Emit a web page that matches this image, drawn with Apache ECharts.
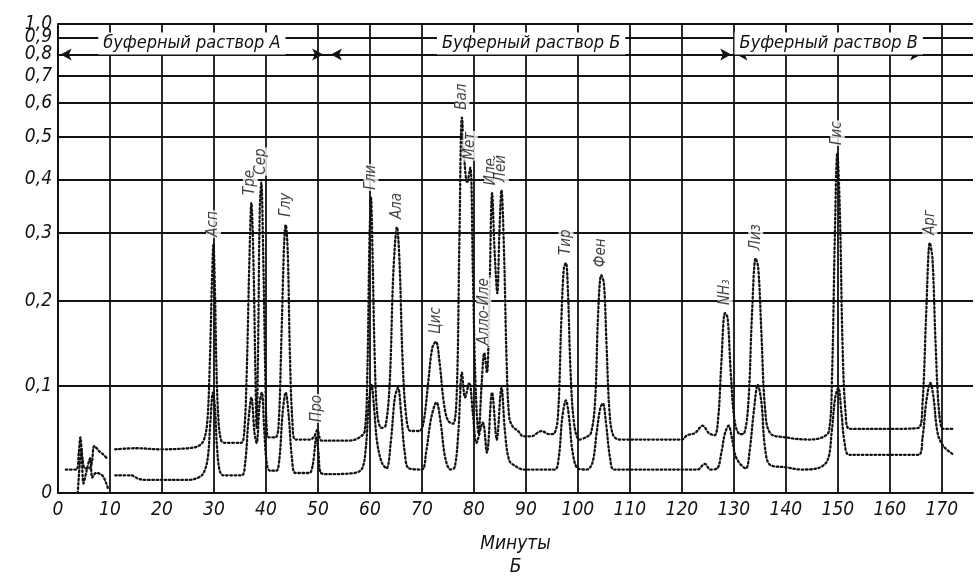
<!DOCTYPE html>
<html><head><meta charset="utf-8">
<script src="https://cdn.jsdelivr.net/npm/echarts@6/dist/echarts.min.js"></script>
<style>html,body{margin:0;padding:0;background:#fff}#c{width:980px;height:581px}</style>
</head><body><div id="c"></div>
<script>
// Y axis: optical density (extinction) ticks; the paper scale is linear in transmission
const yTicks = [0, 0.1, 0.2, 0.3, 0.4, 0.5, 0.6, 0.7, 0.8, 0.9, 1.0];
const yTickLabels = ['0', '0,1', '0,2', '0,3', '0,4', '0,5', '0,6', '0,7', '0,8', '0,9', '1,0'];
const xTicks = [0, 10, 20, 30, 40, 50, 60, 70, 80, 90, 100, 110, 120, 130, 140, 150, 160, 170];
const xTickLabels = xTicks.map(String);

// upper recorder trace [minutes, extinction]
const upperStart = [[1.5,0.020],[3.5,0.020],[4.0,0.035],[4.3,0.049],[4.7,0.030],[5.2,0.021],[6.0,0.021],[6.5,0.026],[7.0,0.041],[8.0,0.036],[8.8,0.033],[9.4,0.030]];
const upperMain = [[11,0.038],[15,0.039],[20,0.038],[25,0.039],[27,0.041],[28,0.046],[28.7,0.063],[29.2,0.125],[29.6,0.224],[29.9,0.281],[30.2,0.210],[30.5,0.114],[30.9,0.063],[31.4,0.046],[32,0.044],[35.2,0.044],
 [35.8,0.053],[36.3,0.114],[36.8,0.253],[37.2,0.353],[37.6,0.253],[38.0,0.103],[38.2,0.058],[38.5,0.147],[38.8,0.335],[39.1,0.393],[39.5,0.253],[39.9,0.103],[40.2,0.053],[40.6,0.049],[41.8,0.049],
 [42.4,0.058],[43.0,0.159],[43.5,0.284],[43.8,0.314],[44.2,0.267],[44.6,0.136],[45.1,0.063],[45.7,0.047],[48.5,0.047],[49.3,0.050],[49.9,0.056],[50.3,0.049],[50.7,0.046],[56,0.046],[58,0.049],
 [59,0.055],[59.5,0.114],[59.9,0.284],[60.2,0.363],[60.5,0.267],[60.9,0.136],[61.4,0.072],[62.2,0.058],[63.0,0.060],[63.8,0.103],[64.5,0.238],[65.2,0.310],[65.7,0.253],[66.3,0.125],[67,0.068],[67.8,0.055],[69.5,0.055],
 [70.3,0.063],[71.2,0.103],[72.0,0.142],[72.7,0.149],[73.4,0.125],[74.2,0.083],[75,0.065],[76,0.062],
 [76.7,0.093],[77.2,0.284],[77.7,0.553],[78.2,0.437],[78.7,0.393],[79.3,0.425],[79.8,0.238],[80.3,0.103],[80.9,0.053],
 [81.5,0.103],[82.0,0.136],[82.5,0.114],[83.0,0.210],[83.5,0.372],[84.0,0.267],[84.5,0.210],[84.9,0.300],[85.3,0.378],[85.8,0.267],[86.3,0.125],[86.8,0.068],[87.5,0.059],[88.5,0.055],[89.5,0.050],[91,0.050],[93,0.055],[94.5,0.052],[95.5,0.053],
 [96.2,0.072],[96.8,0.172],[97.3,0.245],[97.7,0.253],[98.1,0.210],[98.6,0.114],[99.3,0.061],[100.3,0.047],[101.5,0.049],[102.5,0.053],
 [103.3,0.083],[103.9,0.184],[104.5,0.235],[105.0,0.224],[105.5,0.147],[106.1,0.072],[106.8,0.051],[108,0.047],[115,0.047],[120,0.047],[121,0.051],[122.5,0.053],[124,0.060],[125.2,0.053],[126.3,0.051],
 [127.0,0.068],[127.6,0.125],[128.3,0.184],[128.8,0.178],[129.4,0.114],[130.2,0.063],[131.2,0.052],[132,0.053],
 [132.8,0.083],[133.5,0.184],[134.2,0.260],[134.7,0.245],[135.3,0.159],[136,0.077],[137,0.053],[140,0.049],[144.5,0.047],[147,0.049],[148.3,0.055],
 [148.9,0.114],[149.4,0.284],[149.9,0.459],[150.4,0.335],[150.9,0.147],[151.5,0.072],[152.3,0.057],[160,0.057],[165.5,0.058],
 [166.3,0.083],[167.0,0.184],[167.7,0.284],[168.2,0.260],[168.8,0.147],[169.5,0.072],[170.3,0.057],[172,0.057]];

// lower recorder trace [minutes, extinction]
const lowerStart = [[3.8,0.000],[4.2,0.026],[4.5,0.039],[4.9,0.008],[5.5,0.019],[6.2,0.030],[6.6,0.013],[7.3,0.017],[8.5,0.015],[9.3,0.008],[9.6,0.004]];
const lowerMain = [[11,0.015],[14,0.015],[15.5,0.012],[17,0.011],[25,0.011],[27,0.013],[28,0.017],[28.8,0.030],[29.3,0.063],[29.8,0.093],[30.2,0.077],[30.6,0.039],[31.1,0.019],[31.8,0.015],[35.3,0.015],
 [36,0.026],[36.6,0.063],[37.2,0.088],[37.8,0.053],[38.2,0.044],[38.8,0.083],[39.2,0.093],[39.7,0.053],[40.2,0.024],[40.8,0.019],[42,0.019],
 [42.6,0.030],[43.2,0.072],[43.8,0.093],[44.4,0.068],[45,0.030],[45.7,0.017],[48.3,0.017],[49,0.024],[49.7,0.049],[50.1,0.035],[50.6,0.017],[52,0.016],[57,0.017],[58.5,0.021],
 [59.2,0.039],[59.8,0.083],[60.3,0.101],[60.8,0.077],[61.4,0.044],[62.3,0.026],[63.2,0.021],[64,0.044],[64.8,0.088],[65.4,0.098],[66,0.072],[66.7,0.035],[67.5,0.021],[70,0.020],
 [70.8,0.035],[71.8,0.068],[72.8,0.083],[73.6,0.063],[74.5,0.030],[75.5,0.020],[76.3,0.022],
 [77,0.053],[77.7,0.114],[78.3,0.088],[79.1,0.103],[79.8,0.072],[80.5,0.044],[81.7,0.063],[82.5,0.035],[83.5,0.093],[84.4,0.047],[85.3,0.098],[86,0.053],[86.8,0.028],[88,0.023],[89.5,0.020],[95.5,0.020],
 [96.3,0.030],[97,0.068],[97.7,0.085],[98.3,0.068],[99,0.035],[100,0.021],[101.7,0.020],[102.8,0.026],
 [103.6,0.053],[104.3,0.077],[104.8,0.082],[105.4,0.063],[106.2,0.030],[107,0.020],[115,0.020],[123,0.020],[124.4,0.025],[125.5,0.020],[126.8,0.021],
 [127.6,0.035],[128.3,0.053],[129,0.060],[129.6,0.049],[130.5,0.030],[132.3,0.021],[133,0.035],
 [133.8,0.072],[134.6,0.101],[135.3,0.083],[136,0.039],[137,0.024],[140,0.022],[143,0.020],[146,0.021],[148,0.028],
 [148.8,0.053],[149.5,0.088],[150.1,0.098],[150.7,0.072],[151.3,0.044],[152.2,0.033],[160,0.033],[165.5,0.033],
 [166.3,0.049],[167,0.083],[167.8,0.103],[168.4,0.088],[169.2,0.053],[170.3,0.041],[172,0.034]];

// peak labels
const peakNames = ['Асп','Тре','Сер','Глу','Про','Гли','Ала','Цис','Вал','Мет','Алло-Иле','Иле','Лей','Тир','Фен','NH₃','Лиз','Гис','Арг'];
const peakTimes = [29.9, 37.0, 39.1, 43.8, 49.9, 60.2, 65.2, 72.7, 77.7, 79.3, 81.9, 83.4, 85.3, 97.7, 104.5, 128.3, 134.2, 149.9, 167.7];
const peakTops  = [0.281, 0.353, 0.393, 0.314, 0.056, 0.363, 0.310, 0.149, 0.553, 0.425, 0.136, 0.372, 0.378, 0.253, 0.235, 0.184, 0.260, 0.459, 0.284];

// buffer periods
const bufferNames = ['буферный раствор А', 'Буферный раствор Б', 'Буферный раствор В'];
const bufferStart = [0.5, 52.5, 130.5];
const bufferEnd = [51, 129.5, 166];
const bufferLevel = 0.8;

const toAxis = a => 1 - Math.pow(10, -a);
const FONT = '"Liberation Sans Narrow","DejaVu Sans Condensed","Liberation Sans",sans-serif';
const yCustom = yTicks.map(toAxis);
// labels split over two twin axes so the crowded top labels are not auto-hidden
const yMain = yCustom.filter((v, i) => i !== 8 && i !== 10);   // 0 … 0,7 and 0,9
const yTwin = yCustom.filter((v, i) => i === 8 || i === 10);   // 0,8 and 1,0
const conv = arr => arr.map(p => [p[0], toAxis(p[1])]);
const yFmt = v => { let best = 0; yCustom.forEach((c, i) => { if (Math.abs(c - v) < Math.abs(yCustom[best] - v)) best = i; }); return yTickLabels[best]; };
const yLabelStyle = { color: '#111', fontSize: 19, fontStyle: 'italic', fontFamily: FONT, margin: 6, hideOverlap: false, formatter: yFmt, showMinLabel: true, showMaxLabel: true };

const traceStyle = { color: '#111', width: 2.3, type: [1.6, 2.6], cap: 'round' };
function traceSeries(data) {
  return { type: 'line', data: conv(data), showSymbol: false, smooth: 0.35, lineStyle: traceStyle, silent: true, z: 3 };
}

const chart = echarts.init(document.getElementById('c'));
chart.setOption({
  animation: false,
  backgroundColor: '#fff',
  grid: { left: 58, right: 7, top: 24, bottom: 88, containLabel: false, outerBoundsMode: 'none' },
  xAxis: {
    type: 'value', min: 0, max: 176,
    axisLine: { show: true, lineStyle: { color: '#111', width: 2 } },
    axisTick: { show: false, customValues: xTicks },
    axisLabel: { customValues: xTicks, showMinLabel: true, showMaxLabel: true, hideOverlap: false, formatter: v => xTickLabels[xTicks.indexOf(Math.round(v))] ?? '', color: '#111', fontSize: 19, fontStyle: 'italic', fontFamily: FONT, margin: 8 },
    splitLine: { show: true, lineStyle: { color: '#111', width: 1.8 } },
    name: 'Минуты\nБ', nameLocation: 'middle', nameGap: 40,
    nameTextStyle: { color: '#111', fontSize: 19, fontStyle: 'italic', fontFamily: FONT, lineHeight: 23 }
  },
  yAxis: [{
    type: 'value', min: 0, max: toAxis(1.0),
    axisLine: { show: true, lineStyle: { color: '#111', width: 2 } },
    axisTick: { show: false, customValues: yCustom },
    axisLabel: Object.assign({ customValues: yMain }, yLabelStyle),
    splitLine: { show: true, lineStyle: { color: '#111', width: 1.8 } }
  }, {
    type: 'value', min: 0, max: toAxis(1.0), position: 'left',
    axisLine: { show: false }, axisTick: { show: false, customValues: yTwin }, splitLine: { show: false },
    axisLabel: Object.assign({ customValues: yTwin }, yLabelStyle)
  }],
  series: [
    traceSeries(upperStart),
    Object.assign(traceSeries(upperMain), {
      markLine: {
        silent: true, symbol: ['arrow', 'arrow'], symbolSize: [9, 11], animation: false,
        lineStyle: { color: '#111', width: 2, type: 'solid' },
        label: { show: true, position: 'insideMiddleTop', distance: 0, formatter: '{b}', color: '#111', fontSize: 18, fontStyle: 'italic', fontFamily: FONT, backgroundColor: '#fff', padding: [2, 5] },
        data: bufferNames.map((n, i) => [{ name: n, coord: [bufferStart[i], toAxis(bufferLevel)] }, { coord: [bufferEnd[i], toAxis(bufferLevel)] }])
      }
    }),
    traceSeries(lowerStart),
    traceSeries(lowerMain),
    {
      type: 'scatter', symbolSize: 0, silent: true, z: 5,
      data: peakNames.map((n, i) => ({ name: n, value: [peakTimes[i], toAxis(peakTops[i])] })),
      label: { show: true, formatter: '{b}', position: 'top', distance: 7, rotate: 90, align: 'left', verticalAlign: 'middle', color: '#111', fontSize: 15, fontStyle: 'italic', fontFamily: FONT, backgroundColor: '#fff', padding: [0, 1] }
    }
  ]
});
</script></body></html>
